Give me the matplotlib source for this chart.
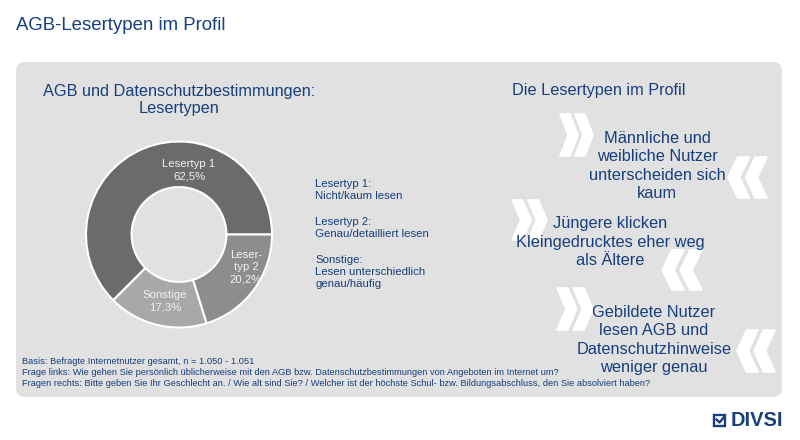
import matplotlib
matplotlib.use('Agg')
import matplotlib.pyplot as plt
from matplotlib import font_manager
from matplotlib.patches import FancyBboxPatch, Polygon, Rectangle

# data
labels = ['Lesertyp 1', 'Sonstige', 'Lesertyp 2']
values = [62.5, 17.3, 20.2]
pct_text = ['62,5%', '17,3%', '20,2%']
slice_names = ['Lesertyp 1', 'Sonstige', 'Leser-\ntyp 2']
colors = ['#6b6b6b', '#a8a8a8', '#8d8d8d']

legend_lines = [('Lesertyp 1:', 'Nicht/kaum lesen'),
                ('Lesertyp 2:', 'Genau/detailliert lesen'),
                ('Sonstige:', 'Lesen unterschiedlich\ngenau/häufig')]

profile_texts = ['Männliche und\nweibliche Nutzer\nunterscheiden sich\nkaum',
                 'Jüngere klicken\nKleingedrucktes eher weg\nals Ältere',
                 'Gebildete Nutzer\nlesen AGB und\nDatenschutzhinweise\nweniger genau']

notes = ['Basis: Befragte Internetnutzer gesamt, n = 1.050 - 1.051',
         'Frage links: Wie gehen Sie persönlich üblicherweise mit den AGB bzw. Datenschutzbestimmungen von Angeboten im Internet um?',
         'Fragen rechts: Bitte geben Sie Ihr Geschlecht an. / Wie alt sind Sie? / Welcher ist der höchste Schul- bzw. Bildungsabschluss, den Sie absolviert haben?']

blue = '#173e7d'
plt.rcParams['font.family'] = ['Liberation Sans', 'DejaVu Sans']

try:
    font_manager.findfont('Liberation Sans Narrow', fallback_to_default=False)
    note_font = ['Liberation Sans Narrow', 'Liberation Sans']
    note_size = 8.1
except Exception:
    note_font = ['Liberation Sans', 'DejaVu Sans']
    note_size = 6.7

fig = plt.figure(figsize=(8, 4.4), dpi=100)
bg = fig.add_axes([0, 0, 1, 1])
bg.set_xlim(0, 800)
bg.set_ylim(440, 0)
bg.axis('off')

bg.text(16, 26, 'AGB-Lesertypen im Profil', fontsize=13.4, color=blue, va='center')

panel = FancyBboxPatch((16, 62), 766, 335, boxstyle='round,pad=0,rounding_size=9',
                       fc='#e1e1e1', ec='none', zorder=0)
bg.add_patch(panel)

# headings
bg.text(179, 100, 'AGB und Datenschutzbestimmungen:\nLesertypen', fontsize=11.7,
        color=blue, ha='center', va='center', linespacing=1.1)
bg.text(599, 91, 'Die Lesertypen im Profil', fontsize=11.7, color=blue,
        ha='center', va='center')

# donut
cx, cy, r = 179, 234.5, 93
pie_ax = fig.add_axes([(cx - r) / 800, (440 - cy - r) / 440, 2 * r / 800, 2 * r / 440])
wedges, _ = pie_ax.pie(values, colors=colors, startangle=0, counterclock=True,
                       radius=1, wedgeprops=dict(width=0.49, edgecolor='white', linewidth=1.5))
pie_ax.set_xlim(-1, 1)
pie_ax.set_ylim(-1, 1)
pie_ax.axis('off')

label_pos = [(189, 170), (165, 301), (246, 267)]
for (x, y), name, pct in zip(label_pos, slice_names, pct_text):
    pie_ax.text((x - cx) / r, (cy - y) / r, name + '\n' + pct, fontsize=8.2,
                color='#f2f2f2', ha='center', va='center', linespacing=1.3, zorder=5)

# legend texts
ly = [190, 228, 272]
for y, (head, body) in zip(ly, legend_lines):
    bg.text(315, y, head + '\n' + body, fontsize=8.2, color=blue, ha='left',
            va='center', linespacing=1.25)


def chevrons(x0, y0, w, h, right=True):
    # two thick chevrons side by side
    t = w * 0.3
    cw = w * 0.55
    for k in range(2):
        x = x0 + k * (w - cw)
        if right:
            pts = [(x, y0), (x + t, y0), (x + cw, y0 + h / 2), (x + t, y0 + h),
                   (x, y0 + h), (x + cw - t, y0 + h / 2)]
        else:
            pts = [(x + cw, y0), (x + cw - t, y0), (x, y0 + h / 2), (x + cw - t, y0 + h),
                   (x + cw, y0 + h), (x + t, y0 + h / 2)]
        bg.add_patch(Polygon(pts, closed=True, fc='white', ec='white', lw=1.2,
                             joinstyle='round', zorder=1))


chevrons(560, 114, 33, 42, True)
chevrons(728, 157, 39, 41, False)
chevrons(512, 200, 35, 40, True)
chevrons(662, 250, 40, 40, False)
chevrons(557, 288, 36, 42, True)
chevrons(737, 330, 38, 42, False)

centers = [(657, 166), (610, 242), (654, 340)]
for (x, y), txt in zip(centers, profile_texts):
    bg.text(x, y, txt, fontsize=11.75, color=blue, ha='center', va='center',
            linespacing=1.3, zorder=3)

for i, line in enumerate(notes):
    bg.text(22, 362 + i * 10.5, line, fontsize=note_size, family=note_font,
            color=blue, ha='left', va='center')

# logo
bg.add_patch(Rectangle((713.5, 415), 11, 11, fc='none', ec=blue, lw=1.7))
bg.plot([716.5, 719.5, 724.5], [419.5, 422.5, 416.5], color=blue, lw=1.7)
bg.text(731, 420.5, 'DIVSI', fontsize=14.4, fontweight='bold', color=blue,
        ha='left', va='center')

fig.savefig('out.png', dpi=100)
